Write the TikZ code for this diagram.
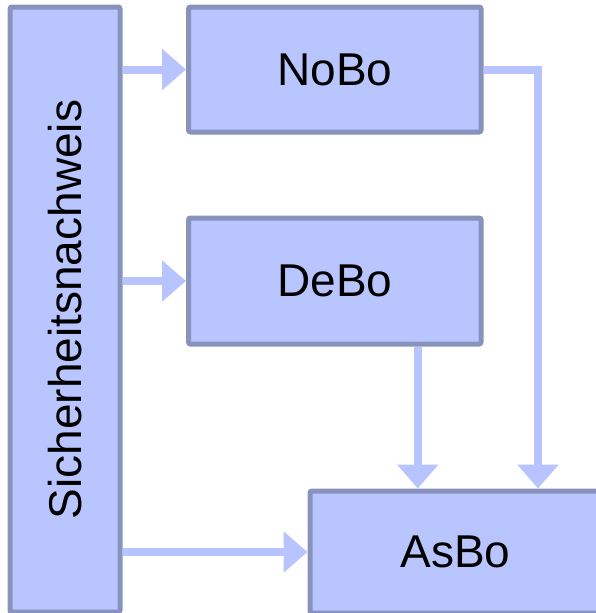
\documentclass[tikz,border=0pt]{standalone}
\usepackage{fontspec}
\setmainfont{Liberation Sans}
\usetikzlibrary{arrows.meta}
\definecolor{boxfill}{RGB}{185,197,255}
\definecolor{boxline}{RGB}{135,146,189}
\definecolor{flow}{RGB}{183,196,255}
\tikzset{
  box/.style={draw=boxline, fill=boxfill, line width=5pt, rounded corners=2pt,
    inner sep=0pt, font=\fontsize{46pt}{50pt}\selectfont},
  arr/.style={draw=flow, line width=8pt,
    -{Triangle[length=24pt,width=40pt,fill=flow]}}
}
\begin{document}
\begin{tikzpicture}[x=1pt,y=-1pt]
  \useasboundingbox (0,0) rectangle (596,613);
  % blocks
  \node[box, minimum width=110pt, minimum height=605pt] (sn) at (65,309.5)
    {\rotatebox{90}{Sicherheitsnachweis}};
  \node[box, minimum width=292.5pt, minimum height=125pt] (nobo) at (334.75,69.5) {NoBo};
  \node[box, minimum width=292.5pt, minimum height=126pt] (debo) at (334.75,281) {DeBo};
  \node[box, minimum width=291pt, minimum height=122pt] (asbo) at (455.5,552) {AsBo};
  % flows
  \draw[arr] (sn.east |- nobo.west) -- (nobo.west);
  \draw[arr] (sn.east |- debo.west) -- (debo.west);
  \draw[arr] (sn.east |- asbo.west) -- (asbo.west);
  \draw[arr] ([xshift=83pt]debo.south) -- ([xshift=83pt]debo.south |- asbo.north);
  \draw[arr] (nobo.east) -| ([xshift=82.5pt]asbo.north);
\end{tikzpicture}
\end{document}
